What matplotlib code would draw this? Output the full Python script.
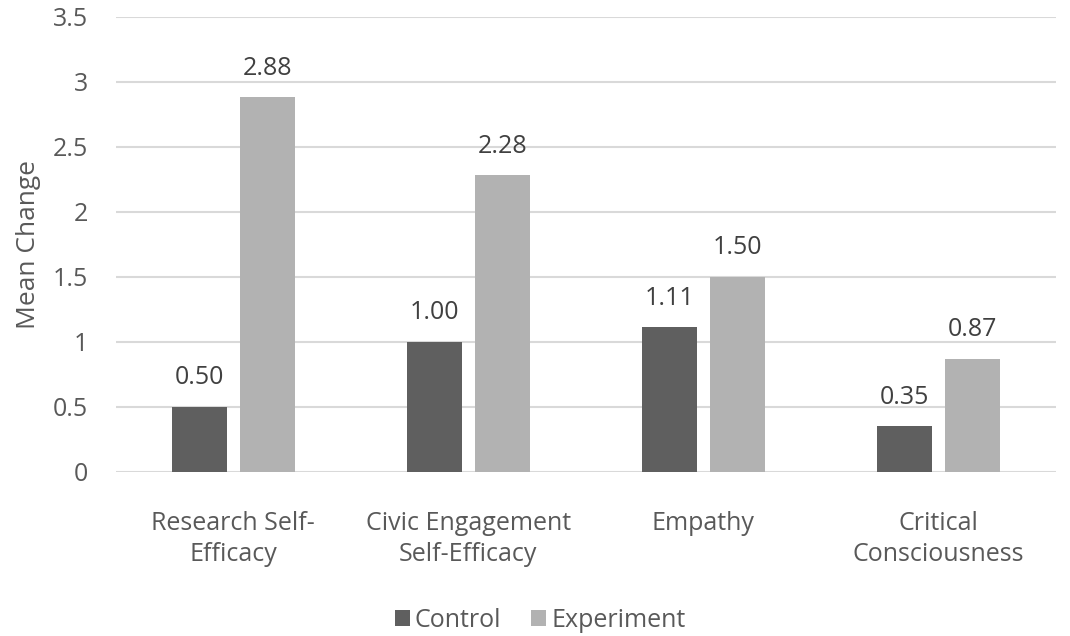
import numpy as np
import matplotlib
matplotlib.use("Agg")
import matplotlib.pyplot as plt

categories = ["Research Self-\nEfficacy", "Civic Engagement\nSelf-Efficacy", "Empathy", "Critical\nConsciousness"]
control = [0.50, 1.00, 1.11, 0.35]
experiment = [2.88, 2.28, 1.50, 0.87]
yticks = [0, 0.5, 1, 1.5, 2, 2.5, 3, 3.5]
ytick_labels = ["0", "0.5", "1", "1.5", "2", "2.5", "3", "3.5"]

TEXT = "#595959"
FS = 18
plt.rcParams["font.family"] = ["Open Sans", "DejaVu Sans"]

fig = plt.figure(figsize=(10.7, 6.36), dpi=100)
ax = fig.add_axes([0.108, 0.258, 0.879, 0.716])

x = np.arange(len(categories))
w = 0.234
off = 0.145
b1 = ax.bar(x - off, control, w, color="#5f5f5f", label="Control", zorder=3)
b2 = ax.bar(x + off, experiment, w, color="#b2b2b2", label="Experiment", zorder=3)

for bars, vals in [(b1, control), (b2, experiment)]:
    for rect, v in zip(bars, vals):
        ax.annotate(f"{v:.2f}", (rect.get_x() + rect.get_width() / 2, v),
                    xytext=(0, 12), textcoords="offset points",
                    ha="center", va="bottom", fontsize=FS, color="#404040")

ax.set_xlim(-0.5, len(categories) - 0.5)
ax.set_ylim(0, 3.5)
ax.set_yticks(yticks)
ax.set_yticklabels(ytick_labels)
ax.set_xticks(x)
ax.set_xticklabels(categories, linespacing=1.35)
ax.tick_params(axis="both", length=0, labelsize=FS, labelcolor=TEXT)
ax.tick_params(axis="x", pad=28)
ax.tick_params(axis="y", pad=20)

ax.yaxis.grid(True, color="#d9d9d9", linewidth=1.5, zorder=0)
ax.set_axisbelow(True)
for spine in ax.spines.values():
    spine.set_visible(False)

ax.set_ylabel("Mean Change", fontsize=FS + 1, color=TEXT)
ax.yaxis.set_label_coords(-0.079, 0.5)

fig.legend(handles=[b1, b2], labels=["Control", "Experiment"], loc="center",
           bbox_to_anchor=(0.505, 0.025), ncol=2, frameon=False, fontsize=FS,
           handlelength=0.6, handleheight=0.6, handletextpad=0.2,
           columnspacing=1.2, labelcolor=TEXT)

fig.savefig("out.png", dpi=100)
